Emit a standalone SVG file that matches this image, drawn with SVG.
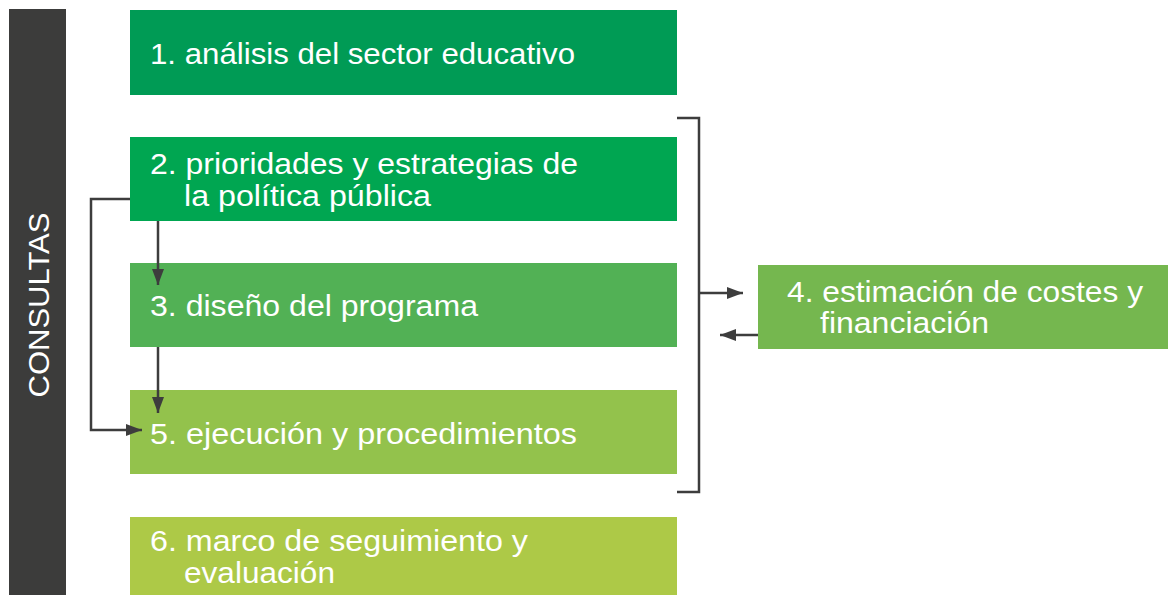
<svg xmlns="http://www.w3.org/2000/svg" width="1168" height="595" viewBox="0 0 1168 595">
<defs>
<style>
.t{font-family:"Liberation Sans",Arial,sans-serif;font-size:29px;fill:#fff}
.c{fill:none;stroke:#3d3d3d;stroke-width:2.5}
</style>
<marker id="a" viewBox="0 0 16 12" refX="16" refY="6" markerWidth="16" markerHeight="12" markerUnits="userSpaceOnUse" orient="auto">
<path d="M0,0 L16,6 L0,12 z" fill="#3d3d3d"/>
</marker>
</defs>
<rect width="1168" height="595" fill="#fff"/>
<g id="consultas">
<rect x="9" y="9" width="57" height="586" fill="#3c3c3b"/>
<text class="t" style="font-size:30px" text-anchor="middle" textLength="185" lengthAdjust="spacingAndGlyphs" transform="translate(49,305) rotate(-90)">CONSULTAS</text>
</g>
<g id="n1">
<rect x="130" y="10" width="547" height="85" fill="#009b55"/>
<text class="t" x="150" y="64" textLength="425" lengthAdjust="spacingAndGlyphs">1. análisis del sector educativo</text>
</g>
<g id="n2">
<rect x="130" y="137" width="547" height="84" fill="#00a651"/>
<text class="t" x="150" y="174" textLength="428" lengthAdjust="spacingAndGlyphs">2. prioridades y estrategias de</text>
<text class="t" x="184" y="206" textLength="247" lengthAdjust="spacingAndGlyphs">la política pública</text>
</g>
<g id="n3">
<rect x="130" y="263" width="547" height="84" fill="#52b155"/>
<text class="t" x="150" y="316" textLength="328" lengthAdjust="spacingAndGlyphs">3. diseño del programa</text>
</g>
<g id="n5">
<rect x="130" y="390" width="547" height="84" fill="#93c24c"/>
<text class="t" x="150" y="444" textLength="427" lengthAdjust="spacingAndGlyphs">5. ejecución y procedimientos</text>
</g>
<g id="n6">
<rect x="130" y="517" width="547" height="78" fill="#adc947"/>
<text class="t" x="150" y="551" textLength="378" lengthAdjust="spacingAndGlyphs">6. marco de seguimiento y</text>
<text class="t" x="184" y="583" textLength="151" lengthAdjust="spacingAndGlyphs">evaluación</text>
</g>
<g id="n4">
<rect x="758" y="265" width="410" height="84" fill="#75b74f"/>
<text class="t" x="787" y="302" textLength="356" lengthAdjust="spacingAndGlyphs">4. estimación de costes y</text>
<text class="t" x="820" y="333" textLength="169" lengthAdjust="spacingAndGlyphs">financiación</text>
</g>
<g id="connectors">
<path class="c" d="M130,199 H91 V430 H142" marker-end="url(#a)"/>
<path class="c" d="M158,221 V285" marker-end="url(#a)"/>
<path class="c" d="M158,347 V413" marker-end="url(#a)"/>
<path class="c" d="M677,118 H699 V492 H677"/>
<path class="c" d="M699,293 H743" marker-end="url(#a)"/>
<path class="c" d="M758,335 H720" marker-end="url(#a)"/>
</g>
</svg>
